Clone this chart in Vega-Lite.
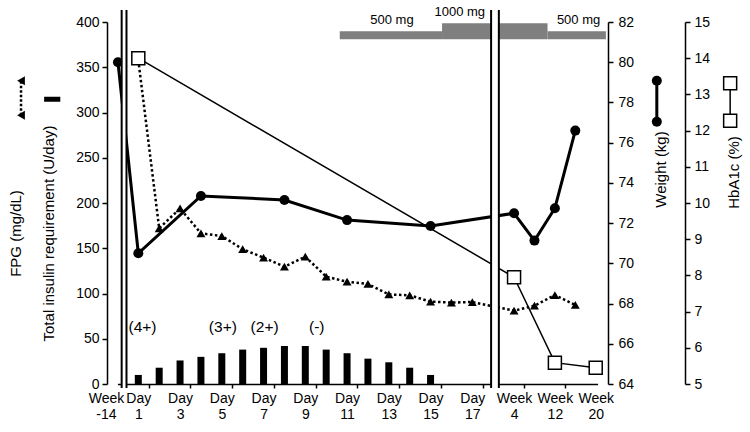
{
  "$schema": "https://vega.github.io/schema/vega-lite/v6.json",
  "width": 501,
  "height": 362,
  "autosize": {"type": "none"},
  "padding": {"left": 107, "top": 22, "right": 142, "bottom": 48},
  "config": {
    "font": "Liberation Sans",
    "view": {"stroke": null},
    "axis": {
      "labelFont": "Liberation Sans",
      "titleFont": "Liberation Sans",
      "labelFontSize": 14,
      "titleFontSize": 15,
      "titleFontWeight": "normal",
      "labelColor": "black",
      "titleColor": "black",
      "domainColor": "black",
      "tickColor": "black",
      "domainWidth": 1.5,
      "tickWidth": 1.5,
      "labelOverlap": false,
      "grid": false
    }
  },
  "datasets": {
    "insulin": [
      {"day": 1, "insulin": 10}, {"day": 2, "insulin": 18}, {"day": 3, "insulin": 26},
      {"day": 4, "insulin": 30}, {"day": 5, "insulin": 34}, {"day": 6, "insulin": 38},
      {"day": 7, "insulin": 40}, {"day": 8, "insulin": 42}, {"day": 9, "insulin": 42},
      {"day": 10, "insulin": 38}, {"day": 11, "insulin": 34}, {"day": 12, "insulin": 28},
      {"day": 13, "insulin": 24}, {"day": 14, "insulin": 18}, {"day": 15, "insulin": 10}
    ],
    "fpg": [
      {"day": 1, "fpg": 358}, {"day": 2, "fpg": 172}, {"day": 3, "fpg": 194},
      {"day": 4, "fpg": 166.5}, {"day": 5, "fpg": 163.5}, {"day": 6, "fpg": 149},
      {"day": 7, "fpg": 139.6}, {"day": 8, "fpg": 129.6}, {"day": 9, "fpg": 140.7},
      {"day": 10, "fpg": 118.6}, {"day": 11, "fpg": 113}, {"day": 12, "fpg": 110.5},
      {"day": 13, "fpg": 99}, {"day": 14, "fpg": 98}, {"day": 15, "fpg": 91},
      {"day": 16, "fpg": 90}, {"day": 17, "fpg": 90.6},
      {"day": 28, "fpg": 81}, {"day": 56, "fpg": 86.5}, {"day": 84, "fpg": 98.3}, {"day": 112, "fpg": 87.3}
    ],
    "weight": [
      {"day": -98, "weight": 80.0}, {"day": 1, "weight": 70.5}, {"day": 4, "weight": 73.35},
      {"day": 8, "weight": 73.15}, {"day": 11, "weight": 72.15}, {"day": 15, "weight": 71.86},
      {"day": 28, "weight": 72.49}, {"day": 56, "weight": 71.13}, {"day": 84, "weight": 72.74},
      {"day": 112, "weight": 76.6}
    ],
    "hba1c": [
      {"day": 1, "hba1c": 14.0}, {"day": 28, "hba1c": 7.95}, {"day": 84, "hba1c": 5.59}, {"day": 140, "hba1c": 5.45}
    ],
    "ketone": [
      {"day": 1.2, "result": "(4+)"}, {"day": 5.05, "result": "(3+)"},
      {"day": 7.05, "result": "(2+)"}, {"day": 9.55, "result": "(-)"}
    ],
    "dose": [
      {"start": 10.65, "end": 15.55, "dose": 500},
      {"start": 15.55, "end": 73.9, "dose": 1000},
      {"start": 73.9, "end": 154, "dose": 500}
    ],
    "doseLabels": [
      {"day": 13.15, "dose": 500, "label": "500 mg"},
      {"day": 16.4, "dose": 1000, "label": "1000 mg"},
      {"day": 116.5, "dose": 500, "label": "500 mg"}
    ]
  },
  "resolve": {
    "scale": {"y": "independent"},
    "axis": {"x": "independent", "y": "independent"}
  },
  "layer": [
    {
      "layer": [
        {
          "data": {"name": "dose"},
          "mark": {"type": "rect", "color": "#7f7f7f"},
          "encoding": {
            "x": {"field": "start", "type": "quantitative", "axis": null,
                  "scale": {"domain": [-98, 1, 17.5, 28, 140], "range": [10.44, 31.31, 375.75, 407.06, 490.56], "nice": false, "zero": false}},
            "x2": {"field": "end"},
            "y": {"field": "dose", "type": "quantitative", "axis": null,
                  "scale": {"domain": [-21543.75, 1081.25], "nice": false, "zero": false}},
            "y2": {"datum": 0}
          }
        },
        {
          "data": {"name": "doseLabels"},
          "mark": {"type": "text", "fontSize": 13, "baseline": "bottom", "align": "center", "dy": -4, "color": "black"},
          "encoding": {
            "x": {"field": "day", "type": "quantitative", "axis": null,
                  "scale": {"domain": [-98, 1, 17.5, 28, 140], "range": [10.44, 31.31, 375.75, 407.06, 490.56], "nice": false, "zero": false}},
            "y": {"field": "dose", "type": "quantitative", "axis": null,
                  "scale": {"domain": [-21543.75, 1081.25], "nice": false, "zero": false}},
            "text": {"field": "label"}
          }
        }
      ]
    },
    {
      "layer": [
        {
          "data": {"name": "insulin"},
          "mark": {"type": "bar", "width": 7, "color": "black"},
          "encoding": {
            "x": {"field": "day", "type": "quantitative",
                  "scale": {"domain": [-98, 1, 17.5, 28, 140], "range": [10.44, 31.31, 375.75, 407.06, 490.56], "nice": false, "zero": false},
                  "axis": {"orient": "bottom", "values": [-147.5, 1.5, 2.5, 3.5, 4.5, 5.5, 6.5, 7.5, 8.5, 9.5, 10.5, 11.5, 12.5, 13.5, 14.5, 15.5, 16.5, 17.5, 24.5, 42, 70, 98, 126, 154],
                           "labels": false, "ticks": true, "tickSize": 4, "domain": true, "title": null}},
            "y": {"field": "insulin", "type": "quantitative",
                  "scale": {"domain": [0, 400], "nice": false, "zero": false},
                  "axis": {"values": [0, 50, 100, 150, 200, 250, 300, 350, 400], "tickSize": 5, "labelPadding": 3,
                           "title": ["FPG (mg/dL)", "Total insulin requirement (U/day)"],
                           "titleAngle": -90, "titleX": -92, "titleY": 211, "titleAlign": "center",
                           "titleBaseline": "middle", "titleLineHeight": 33}}
          }
        },
        {
          "data": {"name": "fpg"},
          "mark": {"type": "line", "color": "black", "strokeWidth": 2.5, "strokeDash": [2.5, 2.5]},
          "encoding": {
            "x": {"field": "day", "type": "quantitative",
                  "scale": {"domain": [-98, 1, 17.5, 28, 140], "range": [10.44, 31.31, 375.75, 407.06, 490.56], "nice": false, "zero": false}},
            "y": {"field": "fpg", "type": "quantitative", "scale": {"domain": [0, 400], "nice": false, "zero": false}}
          }
        },
        {
          "data": {"name": "fpg"},
          "mark": {"type": "point", "shape": "triangle-up", "filled": true, "size": 80, "color": "black", "opacity": 1},
          "encoding": {
            "x": {"field": "day", "type": "quantitative",
                  "scale": {"domain": [-98, 1, 17.5, 28, 140], "range": [10.44, 31.31, 375.75, 407.06, 490.56], "nice": false, "zero": false}},
            "y": {"field": "fpg", "type": "quantitative", "scale": {"domain": [0, 400], "nice": false, "zero": false}}
          }
        },
        {
          "data": {"name": "ketone"},
          "mark": {"type": "text", "fontSize": 15.5, "baseline": "alphabetic", "align": "center", "color": "black"},
          "encoding": {
            "x": {"field": "day", "type": "quantitative",
                  "scale": {"domain": [-98, 1, 17.5, 28, 140], "range": [10.44, 31.31, 375.75, 407.06, 490.56], "nice": false, "zero": false}},
            "y": {"datum": 58, "type": "quantitative", "scale": {"domain": [0, 400], "nice": false, "zero": false}},
            "text": {"field": "result"}
          }
        },
        {
          "data": {"values": [{}]},
          "mark": {"type": "rule", "color": "black", "strokeWidth": 2.5, "strokeDash": [2.5, 2]},
          "encoding": {
            "x": {"datum": -569.6, "type": "quantitative",
                  "scale": {"domain": [-98, 1, 17.5, 28, 140], "range": [10.44, 31.31, 375.75, 407.06, 490.56], "nice": false, "zero": false}},
            "y": {"datum": 297, "type": "quantitative", "scale": {"domain": [0, 400], "nice": false, "zero": false}},
            "y2": {"datum": 335}
          }
        },
        {
          "data": {"values": [{}]},
          "mark": {"type": "point", "shape": "triangle-left", "filled": true, "size": 80, "color": "black", "opacity": 1},
          "encoding": {
            "x": {"datum": -569.6, "type": "quantitative",
                  "scale": {"domain": [-98, 1, 17.5, 28, 140], "range": [10.44, 31.31, 375.75, 407.06, 490.56], "nice": false, "zero": false}},
            "y": {"datum": 335, "type": "quantitative", "scale": {"domain": [0, 400], "nice": false, "zero": false}}
          }
        },
        {
          "data": {"values": [{}]},
          "mark": {"type": "point", "shape": "triangle-left", "filled": true, "size": 80, "color": "black", "opacity": 1},
          "encoding": {
            "x": {"datum": -569.6, "type": "quantitative",
                  "scale": {"domain": [-98, 1, 17.5, 28, 140], "range": [10.44, 31.31, 375.75, 407.06, 490.56], "nice": false, "zero": false}},
            "y": {"datum": 297, "type": "quantitative", "scale": {"domain": [0, 400], "nice": false, "zero": false}}
          }
        },
        {
          "data": {"values": [{}]},
          "mark": {"type": "rect", "color": "black"},
          "encoding": {
            "x": {"datum": -457.2, "type": "quantitative",
                  "scale": {"domain": [-98, 1, 17.5, 28, 140], "range": [10.44, 31.31, 375.75, 407.06, 490.56], "nice": false, "zero": false}},
            "x2": {"datum": -378.5},
            "y": {"datum": 311.9, "type": "quantitative", "scale": {"domain": [0, 400], "nice": false, "zero": false}},
            "y2": {"datum": 317.5}
          }
        }
      ]
    },
    {
      "layer": [
        {
          "data": {"name": "weight"},
          "mark": {"type": "line", "color": "black", "strokeWidth": 3},
          "encoding": {
            "x": {"field": "day", "type": "quantitative", "axis": null,
                  "scale": {"domain": [-98, 1, 17.5, 28, 140], "range": [10.44, 31.31, 375.75, 407.06, 490.56], "nice": false, "zero": false}},
            "y": {"field": "weight", "type": "quantitative",
                  "scale": {"domain": [64, 82], "nice": false, "zero": false},
                  "axis": {"orient": "right", "values": [64, 66, 68, 70, 72, 74, 76, 78, 80, 82], "tickSize": 5, "labelPadding": 5,
                           "labelOverlap": false, "title": "Weight (kg)", "titleAngle": -90, "titleX": 52, "titleY": 147,
                           "titleAlign": "center", "titleBaseline": "middle"}}
          }
        },
        {
          "data": {"name": "weight"},
          "mark": {"type": "point", "shape": "circle", "filled": true, "size": 100, "color": "black", "opacity": 1},
          "encoding": {
            "x": {"field": "day", "type": "quantitative", "axis": null,
                  "scale": {"domain": [-98, 1, 17.5, 28, 140], "range": [10.44, 31.31, 375.75, 407.06, 490.56], "nice": false, "zero": false}},
            "y": {"field": "weight", "type": "quantitative", "scale": {"domain": [64, 82], "nice": false, "zero": false}}
          }
        },
        {
          "data": {"values": [{}]},
          "mark": {"type": "rule", "color": "black", "strokeWidth": 3},
          "encoding": {
            "x": {"datum": 223.8, "type": "quantitative", "axis": null,
                  "scale": {"domain": [-98, 1, 17.5, 28, 140], "range": [10.44, 31.31, 375.75, 407.06, 490.56], "nice": false, "zero": false}},
            "y": {"datum": 77.04, "type": "quantitative", "scale": {"domain": [64, 82], "nice": false, "zero": false}},
            "y2": {"datum": 79.08}
          }
        },
        {
          "data": {"values": [{}]},
          "mark": {"type": "point", "shape": "circle", "filled": true, "size": 100, "color": "black", "opacity": 1},
          "encoding": {
            "x": {"datum": 223.8, "type": "quantitative", "axis": null,
                  "scale": {"domain": [-98, 1, 17.5, 28, 140], "range": [10.44, 31.31, 375.75, 407.06, 490.56], "nice": false, "zero": false}},
            "y": {"datum": 79.08, "type": "quantitative", "scale": {"domain": [64, 82], "nice": false, "zero": false}}
          }
        },
        {
          "data": {"values": [{}]},
          "mark": {"type": "point", "shape": "circle", "filled": true, "size": 100, "color": "black", "opacity": 1},
          "encoding": {
            "x": {"datum": 223.8, "type": "quantitative", "axis": null,
                  "scale": {"domain": [-98, 1, 17.5, 28, 140], "range": [10.44, 31.31, 375.75, 407.06, 490.56], "nice": false, "zero": false}},
            "y": {"datum": 77.04, "type": "quantitative", "scale": {"domain": [64, 82], "nice": false, "zero": false}}
          }
        }
      ]
    },
    {
      "layer": [
        {
          "data": {"name": "hba1c"},
          "mark": {"type": "line", "color": "black", "strokeWidth": 1.5},
          "encoding": {
            "x": {"field": "day", "type": "quantitative", "axis": null,
                  "scale": {"domain": [-98, 1, 17.5, 28, 140], "range": [10.44, 31.31, 375.75, 407.06, 490.56], "nice": false, "zero": false}},
            "y": {"field": "hba1c", "type": "quantitative",
                  "scale": {"domain": [5, 15], "nice": false, "zero": false},
                  "axis": {"orient": "right", "offset": 77, "values": [5, 6, 7, 8, 9, 10, 11, 12, 13, 14, 15], "tickCount": 11,
                           "tickMinStep": 1, "format": "d", "tickSize": 5, "labelPadding": 4,
                           "labelOverlap": false, "labelSeparation": 0, "title": "HbA1c (%)", "titleAngle": -90, "titleX": 48, "titleY": 150,
                           "titleAlign": "center", "titleBaseline": "middle"}}
          }
        },
        {
          "data": {"name": "hba1c"},
          "mark": {"type": "point", "shape": "square", "filled": true, "fill": "white", "stroke": "black", "strokeWidth": 1.5, "size": 169, "opacity": 1},
          "encoding": {
            "x": {"field": "day", "type": "quantitative", "axis": null,
                  "scale": {"domain": [-98, 1, 17.5, 28, 140], "range": [10.44, 31.31, 375.75, 407.06, 490.56], "nice": false, "zero": false}},
            "y": {"field": "hba1c", "type": "quantitative", "scale": {"domain": [5, 15], "nice": false, "zero": false}}
          }
        },
        {
          "data": {"values": [{}]},
          "mark": {"type": "rule", "color": "black", "strokeWidth": 1.5},
          "encoding": {
            "x": {"datum": 324.4, "type": "quantitative", "axis": null,
                  "scale": {"domain": [-98, 1, 17.5, 28, 140], "range": [10.44, 31.31, 375.75, 407.06, 490.56], "nice": false, "zero": false}},
            "y": {"datum": 12.27, "type": "quantitative", "scale": {"domain": [5, 15], "nice": false, "zero": false}},
            "y2": {"datum": 13.31}
          }
        },
        {
          "data": {"values": [{}]},
          "mark": {"type": "point", "shape": "square", "filled": true, "fill": "white", "stroke": "black", "strokeWidth": 1.5, "size": 169, "opacity": 1},
          "encoding": {
            "x": {"datum": 324.4, "type": "quantitative", "axis": null,
                  "scale": {"domain": [-98, 1, 17.5, 28, 140], "range": [10.44, 31.31, 375.75, 407.06, 490.56], "nice": false, "zero": false}},
            "y": {"datum": 13.31, "type": "quantitative", "scale": {"domain": [5, 15], "nice": false, "zero": false}}
          }
        },
        {
          "data": {"values": [{}]},
          "mark": {"type": "point", "shape": "square", "filled": true, "fill": "white", "stroke": "black", "strokeWidth": 1.5, "size": 169, "opacity": 1},
          "encoding": {
            "x": {"datum": 324.4, "type": "quantitative", "axis": null,
                  "scale": {"domain": [-98, 1, 17.5, 28, 140], "range": [10.44, 31.31, 375.75, 407.06, 490.56], "nice": false, "zero": false}},
            "y": {"datum": 12.27, "type": "quantitative", "scale": {"domain": [5, 15], "nice": false, "zero": false}}
          }
        }
      ]
    },
    {
      "layer": [
        {
          "data": {"values": [{}]},
          "mark": {"type": "rect", "color": "white"},
          "encoding": {
            "x": {"datum": -80, "type": "quantitative",
                  "scale": {"domain": [-98, 1, 17.5, 28, 140], "range": [10.44, 31.31, 375.75, 407.06, 490.56], "nice": false, "zero": false},
                  "axis": {"orient": "bottom", "values": [-98, 1, 3, 5, 7, 9, 11, 13, 15, 17, 28, 84, 140],
                           "labelExpr": "datum.value == -98 ? ['Week', '-14'] : datum.value <= 17 ? ['Day', toString(datum.value)] : ['Week', toString(datum.value / 7)]",
                           "domain": false, "ticks": false, "tickSize": 0, "labelPadding": 7, "labelLineHeight": 16,
                           "labelOverlap": false, "labelFlush": false, "labelBound": false, "title": null,
                           "labelOffset": {"condition": {"test": "datum.value == -98", "value": -12}, "value": 0}}},
            "x2": {"datum": -56.5},
            "y": {"datum": -4.4, "type": "quantitative", "axis": null, "scale": {"domain": [0, 400], "nice": false, "zero": false}},
            "y2": {"datum": 413.3}
          }
        },
        {
          "data": {"values": [{}]},
          "mark": {"type": "rect", "color": "white"},
          "encoding": {
            "x": {"datum": 20.3, "type": "quantitative",
                  "scale": {"domain": [-98, 1, 17.5, 28, 140], "range": [10.44, 31.31, 375.75, 407.06, 490.56], "nice": false, "zero": false}},
            "x2": {"datum": 22.9},
            "y": {"datum": -4.4, "type": "quantitative", "axis": null, "scale": {"domain": [0, 400], "nice": false, "zero": false}},
            "y2": {"datum": 413.3}
          }
        },
        {
          "data": {"values": [{}]},
          "mark": {"type": "rule", "color": "black", "strokeWidth": 2},
          "encoding": {
            "x": {"datum": -80, "type": "quantitative",
                  "scale": {"domain": [-98, 1, 17.5, 28, 140], "range": [10.44, 31.31, 375.75, 407.06, 490.56], "nice": false, "zero": false}},
            "y": {"datum": -4.4, "type": "quantitative", "axis": null, "scale": {"domain": [0, 400], "nice": false, "zero": false}},
            "y2": {"datum": 413.3}
          }
        },
        {
          "data": {"values": [{}]},
          "mark": {"type": "rule", "color": "black", "strokeWidth": 2},
          "encoding": {
            "x": {"datum": -56.5, "type": "quantitative",
                  "scale": {"domain": [-98, 1, 17.5, 28, 140], "range": [10.44, 31.31, 375.75, 407.06, 490.56], "nice": false, "zero": false}},
            "y": {"datum": -4.4, "type": "quantitative", "axis": null, "scale": {"domain": [0, 400], "nice": false, "zero": false}},
            "y2": {"datum": 413.3}
          }
        },
        {
          "data": {"values": [{}]},
          "mark": {"type": "rule", "color": "black", "strokeWidth": 2},
          "encoding": {
            "x": {"datum": 20.3, "type": "quantitative",
                  "scale": {"domain": [-98, 1, 17.5, 28, 140], "range": [10.44, 31.31, 375.75, 407.06, 490.56], "nice": false, "zero": false}},
            "y": {"datum": -4.4, "type": "quantitative", "axis": null, "scale": {"domain": [0, 400], "nice": false, "zero": false}},
            "y2": {"datum": 413.3}
          }
        },
        {
          "data": {"values": [{}]},
          "mark": {"type": "rule", "color": "black", "strokeWidth": 2},
          "encoding": {
            "x": {"datum": 22.9, "type": "quantitative",
                  "scale": {"domain": [-98, 1, 17.5, 28, 140], "range": [10.44, 31.31, 375.75, 407.06, 490.56], "nice": false, "zero": false}},
            "y": {"datum": -4.4, "type": "quantitative", "axis": null, "scale": {"domain": [0, 400], "nice": false, "zero": false}},
            "y2": {"datum": 413.3}
          }
        }
      ]
    }
  ]
}
